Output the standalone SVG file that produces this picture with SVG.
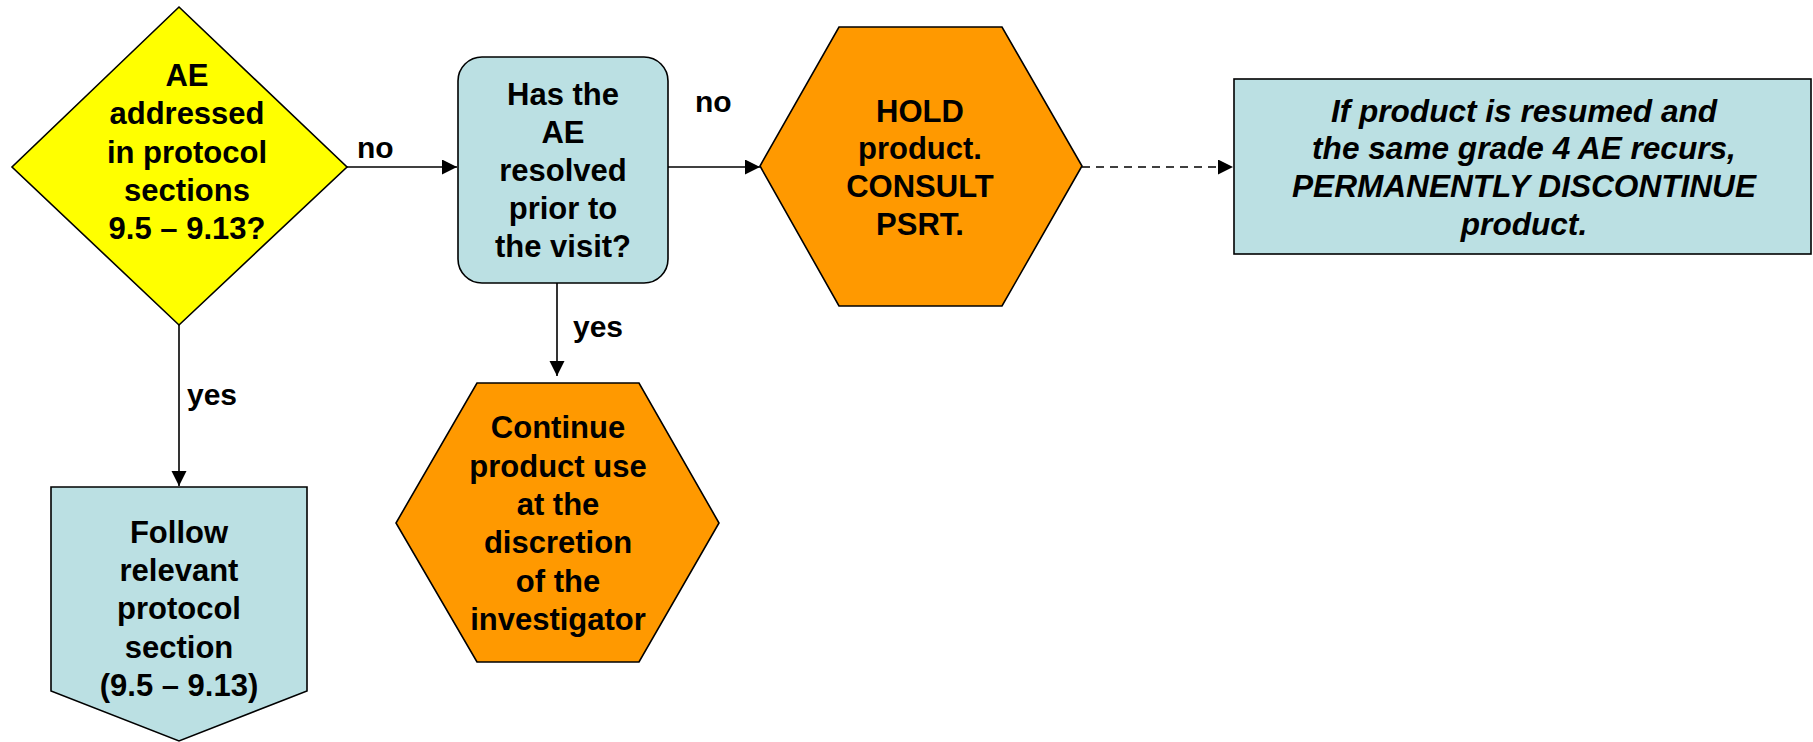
<svg xmlns="http://www.w3.org/2000/svg" width="1813" height="742" viewBox="0 0 1813 742">
<style>
.t{font-family:"Liberation Sans",Arial,sans-serif;font-weight:bold;font-size:31px;fill:#000;text-anchor:middle}
.i{font-style:italic;font-size:31.6px}
.lbl{font-family:"Liberation Sans",Arial,sans-serif;font-weight:bold;font-size:30px;fill:#000}
.sh{stroke:#000;stroke-width:1.6}
.c{stroke:#000;stroke-width:1.6;fill:none}
</style>
<defs>
<marker id="ah" markerUnits="userSpaceOnUse" markerWidth="16" markerHeight="16" refX="15" refY="7.5" orient="auto">
<path d="M0,0 L15,7.5 L0,15 z" fill="#000"/>
</marker>
</defs>
<rect width="1813" height="742" fill="#fff"/>
<g id="connectors">
<line class="c" x1="347" y1="167" x2="457" y2="167" marker-end="url(#ah)"/>
<line class="c" x1="668" y1="167" x2="760" y2="167" marker-end="url(#ah)"/>
<line class="c" x1="1082" y1="167" x2="1233" y2="167" stroke-dasharray="8,6" marker-end="url(#ah)"/>
<line class="c" x1="179" y1="325" x2="179" y2="486" marker-end="url(#ah)"/>
<line class="c" x1="557" y1="283" x2="557" y2="376" marker-end="url(#ah)"/>
<text class="lbl" x="357" y="158">no</text>
<text class="lbl" x="695" y="112">no</text>
<text class="lbl" x="187" y="405">yes</text>
<text class="lbl" x="573" y="337">yes</text>
</g>
<g id="decision1">
<polygon class="sh" points="179,7 347,167 179,325 12,167" fill="#FFFF00"/>
<text class="t" x="187" y="86">AE</text>
<text class="t" x="187" y="124">addressed</text>
<text class="t" x="187" y="163">in protocol</text>
<text class="t" x="187" y="201">sections</text>
<text class="t" x="187" y="239">9.5 – 9.13?</text>
</g>
<g id="decision2">
<rect class="sh" x="458" y="57" width="210" height="226" rx="24" ry="24" fill="#BBE0E3"/>
<text class="t" x="563" y="105">Has the</text>
<text class="t" x="563" y="143">AE</text>
<text class="t" x="563" y="181">resolved</text>
<text class="t" x="563" y="219">prior to</text>
<text class="t" x="563" y="257">the visit?</text>
</g>
<g id="hold">
<polygon class="sh" points="839,27 1002,27 1082,166 1002,306 839,306 760,166" fill="#FF9900"/>
<text class="t" x="920" y="122">HOLD</text>
<text class="t" x="920" y="159">product.</text>
<text class="t" x="920" y="197">CONSULT</text>
<text class="t" x="920" y="235">PSRT.</text>
</g>
<g id="note">
<rect class="sh" x="1234" y="79" width="577" height="175" fill="#BBE0E3"/>
<text class="t i" x="1524" y="122">If product is resumed and</text>
<text class="t i" x="1524" y="159">the same grade 4 AE recurs,</text>
<text class="t i" x="1524" y="197">PERMANENTLY DISCONTINUE</text>
<text class="t i" x="1524" y="235">product.</text>
</g>
<g id="follow">
<polygon class="sh" points="51,487 307,487 307,691 179,741 51,691" fill="#BBE0E3"/>
<text class="t" x="179" y="543">Follow</text>
<text class="t" x="179" y="581">relevant</text>
<text class="t" x="179" y="619">protocol</text>
<text class="t" x="179" y="658">section</text>
<text class="t" x="179" y="696">(9.5 – 9.13)</text>
</g>
<g id="continue">
<polygon class="sh" points="477,383 639,383 719,523 639,662 477,662 396,523" fill="#FF9900"/>
<text class="t" x="558" y="438">Continue</text>
<text class="t" x="558" y="477">product use</text>
<text class="t" x="558" y="515">at the</text>
<text class="t" x="558" y="553">discretion</text>
<text class="t" x="558" y="592">of the</text>
<text class="t" x="558" y="630">investigator</text>
</g>
</svg>
